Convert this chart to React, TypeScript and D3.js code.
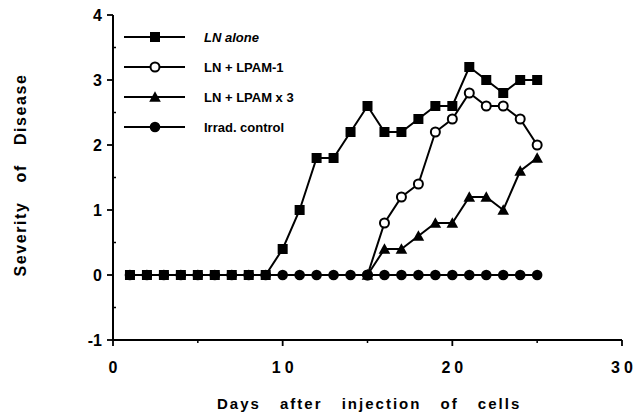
import React from "react";
import * as d3 from "d3";

const days = d3.range(1, 26);
const lnAlone = [0, 0, 0, 0, 0, 0, 0, 0, 0, 0.4, 1.0, 1.8, 1.8, 2.2, 2.6, 2.2, 2.2, 2.4, 2.6, 2.6, 3.2, 3.0, 2.8, 3.0, 3.0];
const lpamDays = d3.range(15, 26);
const lpam1 = [0, 0.8, 1.2, 1.4, 2.2, 2.4, 2.8, 2.6, 2.6, 2.4, 2.0];
const lpam3 = [0, 0.4, 0.4, 0.6, 0.8, 0.8, 1.2, 1.2, 1.0, 1.6, 1.8];
const control = days.map(() => 0);
const xTicks = [0, 10, 20, 30];
const yTicks = [-1, 0, 1, 2, 3, 4];
const legendLabels = ["LN alone", "LN + LPAM-1", "LN + LPAM x 3", "Irrad. control"];

const W = 637, H = 412;
const x = d3.scaleLinear().domain([0, 30]).range([113, 622]);
const y = d3.scaleLinear().domain([-1, 4]).range([340, 15]);
const font = "'Liberation Sans', Arial, sans-serif";

type Shape = "square" | "openCircle" | "triangle" | "circle";

function Marker({ cx, cy, shape }: { cx: number; cy: number; shape: Shape }) {
  if (shape === "square") return <rect x={cx - 5} y={cy - 5} width={10} height={10} fill="#000" />;
  if (shape === "openCircle") return <circle cx={cx} cy={cy} r={4.5} fill="#fff" stroke="#000" strokeWidth={2} />;
  if (shape === "circle") return <circle cx={cx} cy={cy} r={5.3} fill="#000" />;
  const s = 5.8;
  return <path d={`M${cx},${cy - s} L${cx + s},${cy + s * 0.8} L${cx - s},${cy + s * 0.8}Z`} fill="#000" />;
}

function Series({ xs, ys, shape }: { xs: number[]; ys: number[]; shape: Shape }) {
  const pts = xs.map((d, i) => [x(d), y(ys[i])] as [number, number]);
  const line = d3.line()(pts) || "";
  return (
    <g>
      <path d={line} fill="none" stroke="#000" strokeWidth={2} />
      {pts.map((p, i) => <Marker key={i} cx={p[0]} cy={p[1]} shape={shape} />)}
    </g>
  );
}

export default function App() {
  const shapes: Shape[] = ["square", "openCircle", "triangle", "circle"];
  const legendY = [37, 67, 97, 127];
  const yMinor = d3.range(-1, 4.01, 0.5).filter((v) => !Number.isInteger(v));
  const xMinor = [5, 15, 25];
  return (
    <svg width={W} height={H} style={{ position: "absolute", left: 0, top: 0, background: "#fff" }}>
      {/* axes */}
      <line x1={x(0)} x2={x(0)} y1={y(4)} y2={y(-1)} stroke="#000" strokeWidth={2} />
      <line x1={x(0)} x2={x(30)} y1={y(-1)} y2={y(-1)} stroke="#000" strokeWidth={2} />
      {yTicks.map((t) => (
        <g key={t}>
          <line x1={x(0) - 6} x2={x(0)} y1={y(t)} y2={y(t)} stroke="#000" strokeWidth={1.8} />
          <text x={x(0) - 11} y={y(t)} dy="0.36em" textAnchor="end" fontFamily={font} fontWeight="bold" fontSize={16}>{t}</text>
        </g>
      ))}
      {yMinor.map((t) => (
        <line key={t} x1={x(0)} x2={x(0) + 3} y1={y(t)} y2={y(t)} stroke="#000" strokeWidth={1.5} />
      ))}
      {xTicks.map((t) => (
        <g key={t}>
          <line x1={x(t)} x2={x(t)} y1={y(-1)} y2={y(-1) + 6} stroke="#000" strokeWidth={1.8} />
          <text x={x(t) + 2} y={367} dy="0.36em" textAnchor="middle" fontFamily={font} fontWeight="bold" fontSize={16} letterSpacing={4}>{t}</text>
        </g>
      ))}
      {xMinor.map((t) => (
        <line key={t} x1={x(t)} x2={x(t)} y1={y(-1)} y2={y(-1) + 3} stroke="#000" strokeWidth={1.5} />
      ))}
      <text x={217} y={409} textAnchor="start" fontFamily={font} fontWeight="bold" fontSize={15} letterSpacing={2} wordSpacing={13}>Days after injection of cells</text>
      <text transform={`translate(20,175) rotate(-90)`} textAnchor="middle" dy="0.36em" fontFamily={font} fontWeight="bold" fontSize={16} letterSpacing={1.6} wordSpacing={13}>Severity of Disease</text>

      {/* series */}
      <Series xs={lpamDays} ys={lpam1} shape="openCircle" />
      <Series xs={lpamDays} ys={lpam3} shape="triangle" />
      <Series xs={days} ys={control} shape="circle" />
      <Series xs={days} ys={lnAlone} shape="square" />

      {/* legend */}
      {legendLabels.map((l, i) => (
        <g key={l}>
          <line x1={124} x2={185} y1={legendY[i]} y2={legendY[i]} stroke="#000" strokeWidth={2} />
          <Marker cx={155} cy={legendY[i]} shape={shapes[i]} />
          <text x={204} y={legendY[i]} dy="0.36em" fontFamily={font} fontWeight="bold" fontSize={13} fontStyle={i === 0 ? "italic" : "normal"}>{l}</text>
        </g>
      ))}
    </svg>
  );
}
